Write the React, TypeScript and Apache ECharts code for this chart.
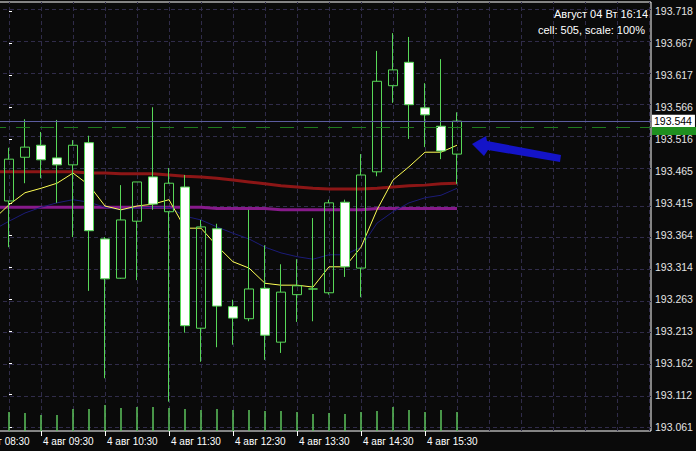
import React, { useEffect, useRef } from 'react';
import * as echarts from 'echarts';

// candle index (15-minute bars from 4 авг 09:00)
const IDX = [0, 1, 2, 3, 4, 5, 6, 7, 8, 9, 10, 11, 12, 13, 14, 15, 16, 17, 18, 19, 20, 21, 22, 23, 24, 25, 26, 27, 28];
const OPEN = [193.418, 193.487, 193.506, 193.486, 193.475, 193.510, 193.358, 193.296, 193.386, 193.456, 193.401, 193.440, 193.217, 193.374, 193.251, 193.232, 193.280, 193.195, 193.270, 193.279, 193.273, 193.416, 193.312, 193.464, 193.600, 193.637, 193.565, 193.536, 193.492];
const CLOSE = [193.484, 193.503, 193.483, 193.475, 193.506, 193.371, 193.295, 193.388, 193.448, 193.413, 193.446, 193.221, 193.377, 193.252, 193.233, 193.279, 193.206, 193.274, 193.284, 193.279, 193.415, 193.314, 193.459, 193.607, 193.625, 193.570, 193.554, 193.497, 193.544];
const LOW = [193.345, 193.446, 193.454, 193.415, 193.361, 193.276, 193.138, 193.295, 193.293, 193.404, 193.101, 193.210, 193.164, 193.187, 193.191, 193.228, 193.167, 193.178, 193.227, 193.228, 193.270, 193.298, 193.266, 193.457, 193.573, 193.516, 193.503, 193.484, 193.445];
const HIGH = [193.502, 193.547, 193.527, 193.546, 193.514, 193.521, 193.361, 193.443, 193.448, 193.566, 193.470, 193.459, 193.388, 193.382, 193.262, 193.404, 193.348, 193.318, 193.326, 193.391, 193.420, 193.420, 193.492, 193.655, 193.683, 193.677, 193.604, 193.642, 193.558];
const VOLUME = [190, 180, 160, 160, 220, 220, 260, 230, 240, 240, 230, 220, 210, 220, 210, 210, 200, 200, 190, 170, 180, 170, 190, 200, 240, 210, 190, 210, 190];

// moving averages (start one bar before the first visible candle)
const MA_IDX = [-1, 0, 1, 2, 3, 4, 5, 6, 7, 8, 9, 10, 11, 12, 13, 14, 15, 16, 17, 18, 19, 20, 21, 22, 23, 24, 25, 26, 27, 28];
const MA_YELLOW = [193.388, 193.412, 193.431, 193.438, 193.446, 193.462, 193.443, 193.410, 193.404, 193.410, 193.413, 193.420, 193.375, 193.375, 193.347, 193.322, 193.312, 193.288, 193.285, 193.285, 193.282, 193.314, 193.314, 193.345, 193.404, 193.451, 193.472, 193.495, 193.495, 193.506];
const MA_NAVY = [193.372, 193.386, 193.399, 193.408, 193.415, 193.420, 193.416, 193.408, 193.404, 193.407, 193.408, 193.408, 193.394, 193.388, 193.377, 193.367, 193.358, 193.345, 193.336, 193.330, 193.326, 193.333, 193.333, 193.345, 193.383, 193.401, 193.415, 193.423, 193.427, 193.438];
const MA_RED = [193.464, 193.464, 193.464, 193.464, 193.464, 193.464, 193.462, 193.462, 193.461, 193.461, 193.461, 193.459, 193.457, 193.456, 193.454, 193.451, 193.448, 193.445, 193.442, 193.440, 193.438, 193.437, 193.437, 193.437, 193.438, 193.440, 193.442, 193.443, 193.445, 193.446];
const MA_PURPLE = [193.408, 193.408, 193.408, 193.408, 193.408, 193.408, 193.408, 193.408, 193.408, 193.408, 193.408, 193.408, 193.408, 193.408, 193.406, 193.406, 193.406, 193.406, 193.404, 193.404, 193.404, 193.404, 193.404, 193.404, 193.406, 193.406, 193.406, 193.406, 193.406, 193.406];

const BID = 193.544;
const ASK = 193.535;

const Y_TICKS = [193.718, 193.667, 193.617, 193.566, 193.516, 193.465, 193.415, 193.364, 193.314, 193.263, 193.213, 193.162, 193.112, 193.061];
const X_TICK_VALUES = [-2, 2, 6, 10, 14, 18, 22, 26];
const X_TICK_LABELS = ['4 авг 08:30', '4 авг 09:30', '4 авг 10:30', '4 авг 11:30', '4 авг 12:30', '4 авг 13:30', '4 авг 14:30', '4 авг 15:30'];
const X_GRID = [0, 2, 4, 6, 8, 10, 12, 14, 16, 18, 20, 22, 24, 26, 28, 30, 32, 34, 36, 38, 40];

const HEADER = ['Август 04 Вт 16:14', 'cell: 505, scale: 100%'];

const FONT = '"Liberation Sans", Arial, sans-serif';
const GREEN = '#58d858';
const GRID_COLOR = '#302c4a';

const Y_MIN = 193.0547;
const Y_MAX = 193.7322;
const GRID_TOP = 2;
const GRID_BOTTOM = 20;
const H = 451;

export default function App() {
  const ref = useRef<HTMLDivElement>(null);

  useEffect(() => {
    if (!ref.current) return;
    const chart = echarts.init(ref.current, null, { renderer: 'svg' });

    const candles = IDX.map((k, i) => [k, OPEN[i], CLOSE[i], LOW[i], HIGH[i]]);
    const vols = IDX.map((k, i) => [k, VOLUME[i]]);
    const line = (vals: number[]) => MA_IDX.map((k, i) => [k, vals[i]]);

    const xMin = -2.5625;
    const xMax = 40.125;
    const gridStyle = { color: GRID_COLOR, type: [4, 3], width: 1 };

    // ask tag position on the price scale
    const plotH = H - GRID_TOP - GRID_BOTTOM;
    const askY = Math.round(GRID_TOP + ((Y_MAX - ASK) / (Y_MAX - Y_MIN)) * plotH);

    const option: any = {
      animation: false,
      backgroundColor: '#0a0a0a',
      textStyle: { fontFamily: FONT },
      grid: {
        left: -32, right: 45, top: GRID_TOP, bottom: GRID_BOTTOM,
        show: true, borderColor: '#ffffff', borderWidth: 1,
        containLabel: false, outerBoundsMode: 'none',
      },
      xAxis: [
        {
          type: 'value', min: xMin, max: xMax, position: 'bottom',
          axisLine: { show: false },
          splitLine: { show: false },
          axisTick: { show: true, customValues: X_TICK_VALUES, length: 5, lineStyle: { color: '#ffffff' } },
          axisLabel: {
            customValues: X_TICK_VALUES,
            formatter: (v: number) => {
              const i = X_TICK_VALUES.indexOf(Math.round(v));
              return i >= 0 ? X_TICK_LABELS[i] : '';
            },
            color: '#ffffff', fontSize: 10, align: 'left', margin: 5, padding: [0, 0, 0, 2],
          },
        },
      ],
      yAxis: [
        {
          type: 'value', position: 'right', min: Y_MIN, max: Y_MAX,
          axisLine: { show: false },
          axisTick: { show: true, customValues: Y_TICKS, length: 3, lineStyle: { color: '#ffffff' } },
          axisLabel: {
            customValues: Y_TICKS,
            formatter: (v: number) => v.toFixed(3),
            color: '#e4e4e4', fontSize: 10.5, margin: 4,
          },
          splitLine: { show: false },
        },
        { type: 'value', min: 0, max: 4290, show: false },
      ],
      graphic: {
        elements: [
          {
            type: 'polygon', z: 100,
            shape: { points: [[652, askY], [696, askY], [696, askY + 8], [652, askY + 8]] },
            style: { fill: '#1f8f1f' },
          },
          {
            type: 'text', z: 100, right: 48, top: 8,
            style: { text: HEADER[0], fill: '#ffffff', font: `11px ${FONT}` },
          },
          {
            type: 'text', z: 100, right: 51, top: 24,
            style: { text: HEADER[1], fill: '#ffffff', font: `11px ${FONT}` },
          },
          {
            type: 'polygon', z: 100,
            shape: { points: [[472, 144], [486, 136], [487, 141], [561, 155], [560, 162], [488, 150], [484, 156]] },
            style: { fill: '#1414c8' },
          },
        ],
      },
      series: [
        {
          // background grid drawn through the axes' scales
          type: 'line', data: [], z: 0, silent: true,
          markLine: {
            z: 0, symbol: 'none', silent: true, animation: false, label: { show: false },
            lineStyle: gridStyle,
            data: [
              ...Y_TICKS.map((v) => ({ yAxis: v })),
              ...X_GRID.map((k) => ({ xAxis: k })),
            ],
          },
        },
        {
          type: 'bar', xAxisIndex: 0, yAxisIndex: 1, data: vols, barWidth: 1.5,
          itemStyle: { color: '#5cc45c' }, z: 1, silent: true,
        },
        {
          type: 'line', data: line(MA_RED), showSymbol: false, z: 2,
          lineStyle: { color: '#8c1616', width: 3 },
        },
        {
          type: 'line', data: line(MA_PURPLE), showSymbol: false, z: 2,
          lineStyle: { color: '#861a8a', width: 3 },
        },
        {
          type: 'line', data: line(MA_NAVY), showSymbol: false, z: 2,
          lineStyle: { color: '#1c1c78', width: 1 },
        },
        {
          type: 'line', data: line(MA_YELLOW), showSymbol: false, z: 2,
          lineStyle: { color: '#ffff55', width: 1 },
        },
        {
          type: 'candlestick', data: candles, encode: { x: 0, y: [1, 2, 3, 4] },
          barWidth: 9, z: 3,
          itemStyle: {
            color: 'rgba(0,0,0,0)', color0: '#ffffff',
            borderColor: GREEN, borderColor0: GREEN, borderColorDoji: GREEN, borderWidth: 1,
          },
          markLine: {
            symbol: 'none', silent: true, animation: false, precision: 3,
            data: [
              {
                yAxis: ASK,
                lineStyle: { color: '#1f7a1f', type: [14, 10], width: 1 },
                label: { show: false },
              },
              {
                yAxis: BID,
                lineStyle: { color: '#5c5ca0', type: 'solid', width: 1 },
                label: {
                  show: true, position: 'end', distance: 1,
                  formatter: () => BID.toFixed(3),
                  color: '#000000', backgroundColor: '#ffffff', fontSize: 10.5, lineHeight: 11,
                  padding: [1, 3, 1, 2],
                },
              },
            ],
          },
        },
      ],
    };

    chart.setOption(option);
    return () => chart.dispose();
  }, []);

  return (
    <div
      ref={ref}
      style={{ position: 'fixed', left: 0, top: 0, width: 696, height: 451, background: '#0a0a0a' }}
    />
  );
}
